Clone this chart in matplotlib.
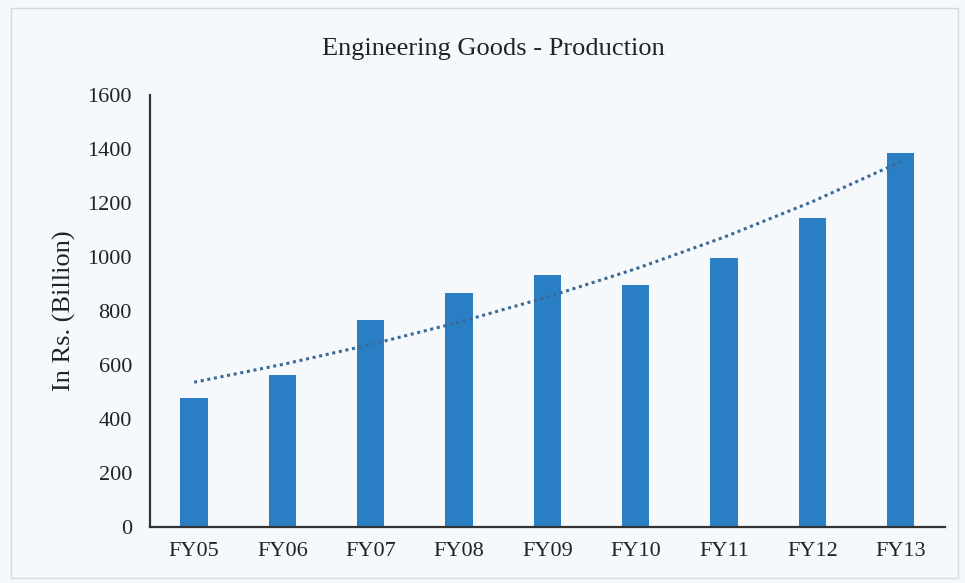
import numpy as np
import matplotlib
matplotlib.use("Agg")
import matplotlib.pyplot as plt
from matplotlib.patches import Rectangle

# Engineering goods production, Rs. billion
years = ["FY05", "FY06", "FY07", "FY08", "FY09", "FY10", "FY11", "FY12", "FY13"]
production = [478, 563, 767, 867, 933, 896, 996, 1144, 1385]

BAR_COLOR = "#2A7FC4"
TREND_COLOR = "#3B6A98"
BG = "#F5F9FC"

plt.rcParams["font.family"] = ["Liberation Serif", "DejaVu Serif"]

fig = plt.figure(figsize=(9.65, 5.83), dpi=100, facecolor=BG)
ax = fig.add_axes([0.1554, 0.096, 0.8236, 0.741])
ax.set_facecolor(BG)

x = np.arange(len(years))
ax.bar(x, production, width=0.31, color=BAR_COLOR, zorder=2)

# exponential trendline fitted to the series
coef = np.polyfit(x, np.log(production), 1)
trend = np.exp(np.polyval(coef, x))
ax.plot(x, trend, linestyle=(0, (1, 1.2)), color=TREND_COLOR, linewidth=2.2, zorder=3)

ax.set_xlim(-0.5, len(years) - 0.5)
ax.set_ylim(0, 1600)
ax.set_yticks(range(0, 1601, 200))
ax.set_xticks(x)
ax.set_xticklabels(years)
ax.tick_params(axis="both", length=0, labelsize=16, colors="#222222")
ax.tick_params(axis="x", pad=11)
ax.tick_params(axis="y", pad=13)

for side in ("top", "right"):
    ax.spines[side].set_visible(False)
for side in ("left", "bottom"):
    ax.spines[side].set_color("#333333")
    ax.spines[side].set_linewidth(1.6)

ax.set_ylabel("In Rs. (Billion)", fontsize=19, color="#222222", labelpad=8)
fig.text(0.511, 0.906, "Engineering Goods - Production", ha="center", va="baseline",
         fontsize=19, color="#222222")

# thin frame around the chart area
fig.add_artist(Rectangle((0.011, 0.008), 0.982, 0.978, transform=fig.transFigure,
                         fill=False, edgecolor="#D6DADE", linewidth=1.0))

fig.savefig("out.png", dpi=100, facecolor=BG)
